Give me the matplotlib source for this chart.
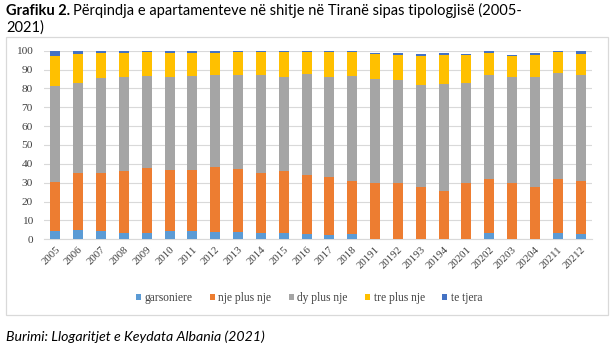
import matplotlib
matplotlib.use("Agg")
import matplotlib.pyplot as plt
from matplotlib.patches import Rectangle
import numpy as np

periods = ['2005', '2006', '2007', '2008', '2009', '2010', '2011', '2012', '2013',
           '2014', '2015', '2016', '2017', '2018', '20191', '20192', '20193', '20194',
           '20201', '20202', '20203', '20204', '20211', '20212']
garsoniere = [4.2, 4.9, 4.2, 3.5, 3.5, 4.2, 4.2, 3.9, 3.9, 3.3, 3.3, 2.8, 2.5, 2.6,
              0, 0, 0, 0, 0, 3.5, 0, 0, 3.5, 2.8]
nje_plus_nje = [26.1, 30.1, 31.0, 32.9, 34.5, 32.8, 32.4, 34.3, 33.2, 31.9, 32.8, 31.4,
                30.6, 28.2, 29.6, 29.6, 27.6, 25.5, 29.6, 28.5, 29.6, 27.6, 28.7, 28.0]
dy_plus_nje = [51.2, 48.0, 50.4, 49.9, 48.6, 48.9, 50.0, 48.9, 50.0, 52.1, 49.8, 53.7,
               52.8, 56.0, 55.3, 55.1, 54.3, 56.7, 53.1, 55.0, 56.7, 58.3, 56.2, 56.2]
tre_plus_nje = [15.7, 15.2, 13.0, 12.3, 12.7, 12.7, 12.3, 11.8, 12.2, 12.0, 13.4, 11.4,
                13.4, 12.7, 13.3, 13.2, 15.3, 15.7, 14.8, 11.6, 11.1, 11.6, 10.7, 11.4]
te_tjera = [2.8, 1.8, 1.4, 1.4, 0.7, 1.4, 1.1, 1.1, 0.7, 0.7, 0.7, 0.7, 0.7, 0.5,
            0.7, 0.7, 0.9, 0.7, 0.9, 1.4, 0.5, 1.4, 0.9, 1.6]
series_names = ['garsoniere', 'nje plus nje', 'dy plus nje', 'tre plus nje', 'te tjera']
colors = ['#5B9BD5', '#ED7D31', '#A5A5A5', '#FFC000', '#4472C4']
yticks = [0, 10, 20, 30, 40, 50, 60, 70, 80, 90, 100]

W, H = 612, 349
fig = plt.figure(figsize=(W / 100, H / 100), dpi=100)
fig.patch.set_facecolor('white')

# chart border
fig.add_artist(Rectangle((6 / W, 1 - 315 / H), (608 - 6) / W, (315 - 37) / H,
                         transform=fig.transFigure, fill=False,
                         edgecolor='#D9D9D9', linewidth=0.9))

ax = fig.add_axes([44 / W, 1 - 239.3 / H, (592 - 44) / W, (239.3 - 50.7) / H])
x = np.arange(len(periods))
bottom = np.zeros(len(periods))
data = [garsoniere, nje_plus_nje, dy_plus_nje, tre_plus_nje, te_tjera]
for vals, name, c in zip(data, series_names, colors):
    v = np.array(vals, dtype=float)
    ax.bar(x, v, bottom=bottom, width=0.44, color=c, label=name, zorder=3)
    bottom += v

ax.set_xlim(-0.5, len(periods) - 0.5)
ax.set_ylim(0, 100)
ax.set_yticks(yticks)
ax.grid(axis='y', color='#D9D9D9', linewidth=0.8, zorder=0)
for s in ['top', 'right', 'left']:
    ax.spines[s].set_visible(False)
ax.spines['bottom'].set_color('#D9D9D9')
ax.spines['bottom'].set_linewidth(0.8)
ax.tick_params(axis='both', length=0, colors='#404040')
ax.tick_params(axis='x', labelsize=7.8, pad=4)
ax.tick_params(axis='y', labelsize=8.2, pad=8)
ax.set_xticks(x)
ax.set_xticklabels(periods, rotation=45, ha='right', rotation_mode='anchor',
                   family='Liberation Serif')
for lab in ax.get_yticklabels():
    lab.set_family('Liberation Serif')

leg = fig.legend(loc='center', bbox_to_anchor=(309 / W, 1 - 298 / H), ncol=5,
                 frameon=False, prop={'family': 'Liberation Serif', 'size': 8.3},
                 handlelength=0.45, handleheight=0.45, handletextpad=0.3,
                 columnspacing=1.5)
for t in leg.get_texts():
    t.set_color('#404040')

# title
fig.canvas.draw()
r = fig.canvas.get_renderer()
t1 = fig.text(6 / W, 1 - 15 / H, 'Grafiku 2.', fontsize=10.5, fontweight='bold',
              family='Lato', va='baseline', ha='left')
bb = t1.get_window_extent(renderer=r)
fig.text(bb.x1 / W + 3 / W, 1 - 15 / H,
         'Përqindja e apartamenteve në shitje në Tiranë sipas tipologjisë (2005-',
         fontsize=10.5, family='Lato', va='baseline', ha='left')
fig.text(6 / W, 1 - 32 / H, '2021)', fontsize=10.5, family='Lato',
         va='baseline', ha='left')
fig.text(6 / W, 1 - 341 / H, 'Burimi: Llogaritjet e Keydata Albania (2021)',
         fontsize=10.2, family='Lato', style='italic', va='baseline', ha='left')

fig.savefig('out.png', dpi=100)
